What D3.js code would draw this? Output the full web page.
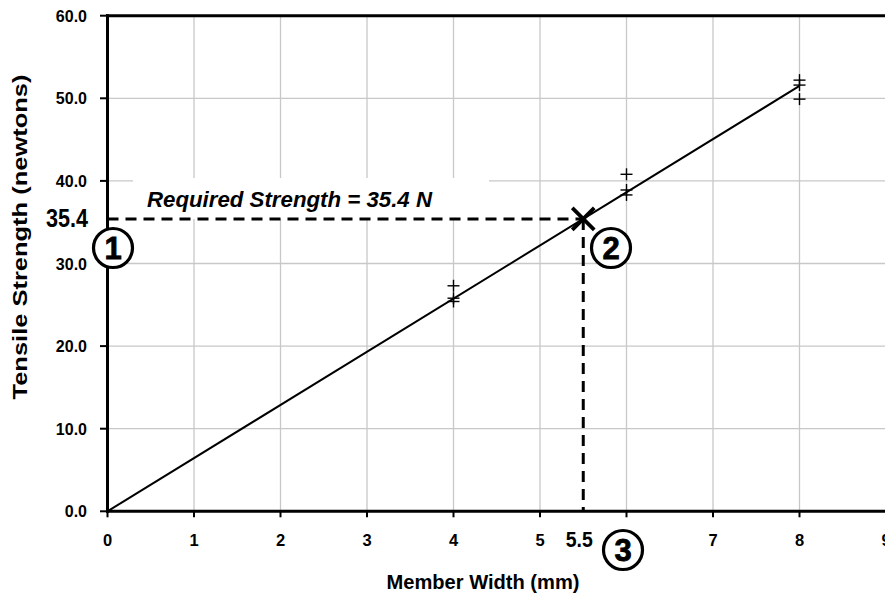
<!DOCTYPE html>
<html><head><meta charset="utf-8">
<script src="https://cdn.jsdelivr.net/npm/d3@7"></script>
<style>
body{margin:0;background:#fff;}
text{font-family:"Liberation Sans",Arial,sans-serif;font-weight:bold;}
</style></head>
<body><svg id="c" width="885" height="594"></svg>
<script>
const xTicks = [0,1,2,3,4,5,6,7,8,9];
const yTicks = [0,10,20,30,40,50,60];
const sampleWidths = [4,4,4,6,6,6,8,8,8];
const sampleStrengths = [27.3,25.8,25.4,40.8,38.9,38.3,52.2,51.6,49.9];
const fitLine = [[0,0],[8,51.5]];
const required = {width:5.5, strength:35.4};
const labelText = "Required Strength = 35.4 N";
const xTitle = "Member Width (mm)";
const yTitle = "Tensile Strength (newtons)";

const svg = d3.select("#c");
const x = d3.scaleLinear().domain([0,9]).range([107.5,886]);
const y = d3.scaleLinear().domain([0,60]).range([511.3,15.7]);

// gridlines
const g = svg.append("g");
g.selectAll(".vg").data(xTicks.filter(d=>d>0)).join("line")
 .attr("x1",d=>x(d)).attr("x2",d=>x(d)).attr("y1",y(60)).attr("y2",y(0))
 .attr("stroke","#c8c8c8").attr("stroke-width",1.3);
g.selectAll(".hg").data(yTicks.filter(d=>d>0&&d<60)).join("line")
 .attr("x1",x(0)).attr("x2",x(9)).attr("y1",d=>y(d)).attr("y2",d=>y(d))
 .attr("stroke","#c8c8c8").attr("stroke-width",1.3);

// white box behind label
svg.append("rect").attr("x",133).attr("y",178).attr("width",356).attr("height",y(required.strength)-178)
 .attr("fill","#fff");

// fit line
svg.append("path").datum(fitLine)
 .attr("d",d3.line().x(d=>x(d[0])).y(d=>y(d[1])))
 .attr("stroke","#000").attr("stroke-width",2).attr("fill","none");

// dashed lines
svg.append("line").attr("x1",x(0)).attr("x2",x(required.width))
 .attr("y1",y(required.strength)).attr("y2",y(required.strength))
 .attr("stroke","#000").attr("stroke-width",3).attr("stroke-dasharray","11,7");
svg.append("line").attr("x1",x(required.width)).attr("x2",x(required.width))
 .attr("y1",y(required.strength)).attr("y2",y(0))
 .attr("stroke","#000").attr("stroke-width",3).attr("stroke-dasharray","11,7");

// plus markers
const pts = sampleWidths.map((w,i)=>[w,sampleStrengths[i]]);
const pm = svg.append("g");
pm.selectAll(".ph").data(pts).join("line")
 .attr("x1",d=>x(d[0])-6).attr("x2",d=>x(d[0])+6).attr("y1",d=>y(d[1])).attr("y2",d=>y(d[1]))
 .attr("stroke","#000").attr("stroke-width",1.4);
pm.selectAll(".pv").data(pts).join("line")
 .attr("x1",d=>x(d[0])).attr("x2",d=>x(d[0])).attr("y1",d=>y(d[1])-6).attr("y2",d=>y(d[1])+6)
 .attr("stroke","#000").attr("stroke-width",1.4);

// axes
const ax = svg.append("g");
ax.append("line").attr("x1",x(0)-1.5).attr("x2",885).attr("y1",y(60)).attr("y2",y(60)).attr("stroke","#000").attr("stroke-width",3);
ax.append("line").attr("x1",x(0)).attr("x2",x(0)).attr("y1",y(60)-1.5).attr("y2",y(0)+1.5).attr("stroke","#000").attr("stroke-width",3);
ax.append("line").attr("x1",x(0)-1.5).attr("x2",885).attr("y1",y(0)).attr("y2",y(0)).attr("stroke","#000").attr("stroke-width",3);
ax.selectAll(".yt").data(yTicks).join("line")
 .attr("x1",x(0)-7.5).attr("x2",x(0)).attr("y1",d=>y(d)).attr("y2",d=>y(d)).attr("stroke","#000").attr("stroke-width",2);
ax.selectAll(".xt").data(xTicks).join("line")
 .attr("x1",d=>x(d)).attr("x2",d=>x(d)).attr("y1",y(0)).attr("y2",y(0)+6).attr("stroke","#000").attr("stroke-width",2);
ax.selectAll(".yl").data(yTicks).join("text")
 .attr("x",87).attr("y",d=>y(d)+6).attr("text-anchor","end").attr("font-size",16).text(d=>d.toFixed(1));
// the "6" label is hidden under circle 3 in the reference
ax.selectAll(".xl").data(xTicks.filter(d=>d!==6)).join("text")
 .attr("x",d=>x(d)).attr("y",546).attr("text-anchor","middle").attr("font-size",16.5).text(d=>d);

// X marker
const cx = x(required.width), cy = y(required.strength), s = 11;
svg.append("path").attr("d",`M${cx-s},${cy-s}L${cx+s},${cy+s}M${cx-s},${cy+s}L${cx+s},${cy-s}`)
 .attr("stroke","#000").attr("stroke-width",3.8).attr("fill","none");

// labels
svg.append("text").attr("x",147).attr("y",207).attr("font-size",22.5).attr("font-style","italic")
 .attr("textLength",285).attr("lengthAdjust","spacingAndGlyphs").text(labelText);
svg.append("text").attr("x",88).attr("y",y(required.strength)+8.5).attr("text-anchor","end").attr("font-size",26)
 .attr("textLength",42).attr("lengthAdjust","spacingAndGlyphs").text(required.strength.toFixed(1));
svg.append("text").attr("x",cx-4).attr("y",547).attr("text-anchor","middle").attr("font-size",21.5)
 .attr("textLength",27).attr("lengthAdjust","spacingAndGlyphs").text(required.width.toFixed(1));

// numbered circles
const circles = [{n:"1",cx:113,cy:248},{n:"2",cx:611,cy:248},{n:"3",cx:623,cy:550}];
const cg = svg.selectAll(".cg").data(circles).join("g");
cg.append("circle").attr("cx",d=>d.cx).attr("cy",d=>d.cy).attr("r",19.5)
 .attr("fill","#fff").attr("stroke","#000").attr("stroke-width",3.2);
cg.append("text").attr("x",d=>d.cx).attr("y",d=>d.cy+11).attr("text-anchor","middle")
 .attr("font-size",31).attr("stroke","#000").attr("stroke-width",0.8).text(d=>d.n);

// titles
svg.append("text").attr("x",483).attr("y",589).attr("text-anchor","middle").attr("font-size",20)
 .attr("textLength",193).attr("lengthAdjust","spacingAndGlyphs").text(xTitle);
svg.append("text").attr("transform","translate(27,237) rotate(-90)").attr("text-anchor","middle").attr("font-size",20)
 .attr("textLength",325).attr("lengthAdjust","spacingAndGlyphs").text(yTitle);
</script></body></html>
